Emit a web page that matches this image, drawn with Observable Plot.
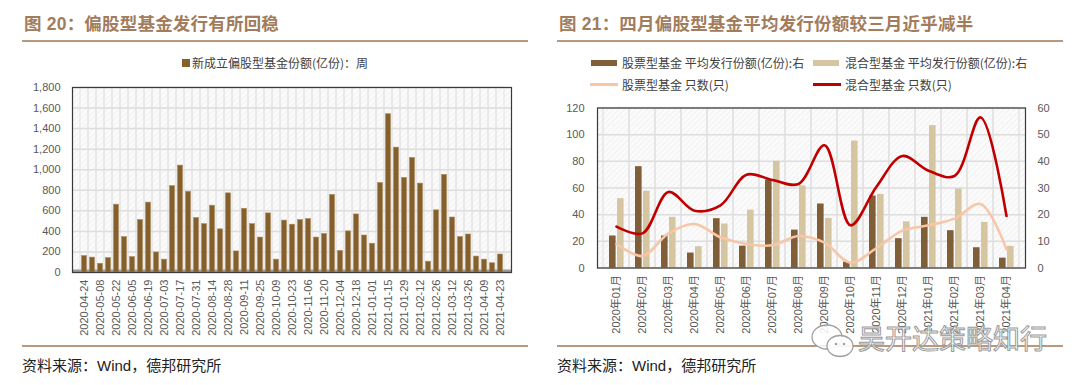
<!DOCTYPE html>
<html><head><meta charset="utf-8">
<script src="https://cdn.jsdelivr.net/npm/d3@7"></script>
<script src="https://cdn.jsdelivr.net/npm/@observablehq/plot@0.6"></script>
<style>
body{margin:0;background:#fff;}
#root{position:relative;width:1080px;height:385px;overflow:hidden;font-family:"Liberation Sans","Noto Sans CJK SC",sans-serif;}
#root svg.plot{position:absolute;top:0;}
.title{position:absolute;top:11px;font-size:17.5px;line-height:26px;font-weight:bold;color:#a27c5c;white-space:nowrap;letter-spacing:0.2px;font-family:"Liberation Sans","Noto Sans CJK SC",sans-serif;}
.rule{position:absolute;height:2px;background:#b9997e;}
.src{position:absolute;top:356px;font-size:15px;line-height:20px;color:#222;white-space:nowrap;font-family:"Liberation Sans","Noto Sans CJK SC",sans-serif;}
.leg{position:absolute;font-size:12px;line-height:16px;color:#404040;white-space:nowrap;font-family:"Noto Sans CJK SC",sans-serif;}
.sw{position:absolute;}
.wm{position:absolute;left:858px;top:320px;font-size:27px;line-height:36px;color:rgba(255,255,255,0.85);-webkit-text-stroke:1px #9a9a9a;font-family:"Noto Sans CJK SC",sans-serif;white-space:nowrap;}
#wmicon{position:absolute;left:808px;top:322px;}
</style></head>
<body>
<div id="root">
  <div class="title" style="left:24px">图 20：偏股型基金发行有所回稳</div>
  <div class="rule" style="left:22px;width:506px;top:40px"></div>
  <div class="sw" style="left:182px;top:59px;width:8px;height:8px;background:#86602a"></div>
  <div class="leg" style="left:192px;top:55px">新成立偏股型基金份额(亿份)：周</div>
  <div class="rule" style="left:22px;width:506px;top:345px"></div>
  <div class="src" style="left:22px">资料来源：Wind，德邦研究所</div>

  <div class="title" style="left:559px">图 21：四月偏股型基金平均发行份额较三月近乎减半</div>
  <div class="rule" style="left:557px;width:506px;top:40px"></div>
  <div class="sw" style="left:591px;top:60px;width:26px;height:6px;background:#7f5e38"></div>
  <div class="leg" style="left:622px;top:55px">股票型基金 平均发行份额(亿份):右</div>
  <div class="sw" style="left:813px;top:60px;width:26px;height:6px;background:#d5c5a1"></div>
  <div class="leg" style="left:845px;top:55px">混合型基金 平均发行份额(亿份):右</div>
  <div class="sw" style="left:590px;top:83px;width:28px;height:2.5px;background:#f8c6a6"></div>
  <div class="leg" style="left:622px;top:77px">股票型基金 只数(只)</div>
  <div class="sw" style="left:813px;top:83px;width:28px;height:2.5px;background:#c00000"></div>
  <div class="leg" style="left:845px;top:77px">混合型基金 只数(只)</div>
  <div class="rule" style="left:557px;width:506px;top:345px"></div>
  <div class="src" style="left:557px">资料来源：Wind，德邦研究所</div>
</div>
<script>
// ---- Chart 20 data ----
const weekDates = ["2020-04-24","2020-05-01","2020-05-08","2020-05-15","2020-05-22","2020-05-29","2020-06-05","2020-06-12","2020-06-19","2020-06-26",
  "2020-07-03","2020-07-10","2020-07-17","2020-07-24","2020-07-31","2020-08-07","2020-08-14","2020-08-21","2020-08-28","2020-09-04",
  "2020-09-11","2020-09-18","2020-09-25","2020-10-02","2020-10-09","2020-10-16","2020-10-23","2020-10-30","2020-11-06","2020-11-13",
  "2020-11-20","2020-11-27","2020-12-04","2020-12-11","2020-12-18","2020-12-25","2021-01-01","2021-01-08","2021-01-15","2021-01-22",
  "2021-01-29","2021-02-05","2021-02-12","2021-02-19","2021-02-26","2021-03-05","2021-03-12","2021-03-19","2021-03-26","2021-04-02",
  "2021-04-09","2021-04-16","2021-04-23"];
const weekLabels = ["2020-04-24","2020-05-08","2020-05-22","2020-06-05","2020-06-19","2020-07-03","2020-07-17","2020-07-31","2020-08-14",
  "2020-08-28","2020-09-11","2020-09-25","2020-10-09","2020-10-23","2020-11-06","2020-11-20","2020-12-04","2020-12-18","2021-01-01",
  "2021-01-15","2021-01-29","2021-02-12","2021-02-26","2021-03-12","2021-03-26","2021-04-09","2021-04-23"];
const newEquityShares = [160,145,85,140,660,345,150,510,680,195,
  125,840,1040,785,530,470,650,420,770,205,
  620,470,340,575,125,505,465,510,520,340,
  375,755,210,400,565,360,280,870,1540,1215,
  920,1115,865,105,605,950,535,345,370,155,
  125,90,175];
const leftTicks = [0,200,400,600,800,1000,1200,1400,1600,1800];

// ---- Chart 21 data ----
const months = ["2020年01月","2020年02月","2020年03月","2020年04月","2020年05月","2020年06月","2020年07月","2020年08月",
  "2020年09月","2020年10月","2020年11月","2020年12月","2021年01月","2021年02月","2021年03月","2021年04月"];
const stockAvgShare = [12,38,12,5.6,18.5,8.2,33,14.2,24,2.2,27,11,19,14,7.6,3.7];
const mixedAvgShare = [26,28.8,19,8,16.5,21.7,40,30.8,18.6,47.6,27.6,17.3,53.4,29.6,17.1,8.1];
const stockCount = [18,9,26,33,23,18,17,24,19,4,15,28,32,37,48,14];
const mixedCount = [31,26,57,43,47,70,66,63,92,32,61,84,73,69,113,39];
const countTicks = [0,20,40,60,80,100,120];   // left axis (只)
const shareTicks = [0,10,20,30,40,50,60];     // right axis (亿份)

const FONT = "Liberation Sans, Noto Sans CJK SC, sans-serif";
const root = document.getElementById("root");

function addHatch(svg, id) {
  const ns = "http://www.w3.org/2000/svg";
  const defs = document.createElementNS(ns, "defs");
  defs.innerHTML = `<pattern id="${id}" width="4" height="4" patternUnits="userSpaceOnUse" patternTransform="rotate(45)">
    <rect width="4" height="4" fill="#fbfbfb"/><line x1="0" y1="0" x2="0" y2="4" stroke="#eeeeee" stroke-width="1.4"/></pattern>`;
  svg.insertBefore(defs, svg.firstChild);
}

// ---- Left chart ----
const leftData = weekDates.map((d, i) => ({date: d, value: newEquityShares[i]}));
const labelSet = new Set(weekLabels);
const left = Plot.plot({
  width: 540, height: 345,
  marginTop: 87, marginBottom: 73, marginLeft: 72, marginRight: 29,
  style: {fontFamily: FONT, fontSize: "11px", color: "#595959", background: "transparent", overflow: "visible"},
  x: {type: "band", domain: weekDates, padding: 0},
  y: {domain: [0, 1800]},
  marks: [
    Plot.frame({fill: "url(#hatchL)", stroke: "none"}),
    Plot.barY(weekDates, {x: d => d, y1: 0, y2: 1800, fill: "none", stroke: "#e4e4e4", strokeWidth: 1}),
    Plot.ruleY(leftTicks, {stroke: "#dddddd", strokeWidth: 1.5}),
    Plot.ruleY([0], {stroke: "#9a9a9a", strokeWidth: 3, dy: -1.5}),
    Plot.barY(leftData, {x: "date", y: "value", fill: "#86602a", stroke: "#a88a5e", strokeWidth: 0.6, insetLeft: 1.5, insetRight: 1.5}),
    Plot.frame({stroke: "#3a3a3a", strokeWidth: 1.2}),
    Plot.axisY({ticks: leftTicks, tickFormat: d3.format(","), tickSize: 0, tickPadding: 12, label: null, fontSize: 11}),
    Plot.axisX({tickFormat: d => labelSet.has(d) ? d : "", tickRotate: -90, tickSize: 0, tickPadding: 7, label: null, fontSize: 11})
  ]
});
left.classList.add("plot");
left.style.left = "0px";
addHatch(left, "hatchL");
root.appendChild(left);

// ---- Right chart ----
const rightData = months.map((m, i) => ({month: m, stockShare: stockAvgShare[i], mixedShare: mixedAvgShare[i],
  stockN: stockCount[i], mixedN: mixedCount[i]}));
const right = Plot.plot({
  width: 540, height: 345,
  marginTop: 107.5, marginBottom: 77.5, marginLeft: 57, marginRight: 55,
  style: {fontFamily: FONT, fontSize: "11px", color: "#595959", background: "transparent", overflow: "visible"},
  x: {type: "band", domain: months, padding: 0},
  y: {domain: [0, 120]},
  marks: [
    Plot.frame({fill: "url(#hatchR)", stroke: "none"}),
    Plot.barY(months, {x: d => d, y1: 0, y2: 120, fill: "none", stroke: "#e2e2e2", strokeWidth: 1.2}),
    Plot.ruleY(countTicks, {stroke: "#dddddd", strokeWidth: 1.5}),
    // bars are read on the right axis (亿份): a right-axis value v sits at left-axis 2v
    Plot.barY(rightData, {x: "month", y: d => d.stockShare * 2, fill: "#7f5e38", insetLeft: 6, insetRight: 13.4}),
    Plot.barY(rightData, {x: "month", y: d => d.mixedShare * 2, fill: "#d5c5a1", insetLeft: 14, insetRight: 5.4}),
    Plot.line(rightData, {x: "month", y: "stockN", stroke: "#f8c6a6", strokeWidth: 2.6, curve: "catmull-rom"}),
    Plot.line(rightData, {x: "month", y: "mixedN", stroke: "#c00000", strokeWidth: 2.6, curve: "catmull-rom"}),
    Plot.frame({stroke: "#3a3a3a", strokeWidth: 1.2}),
    Plot.axisY({anchor: "left", ticks: countTicks, tickSize: 0, tickPadding: 13, label: null, fontSize: 11}),
    Plot.axisY({anchor: "right", ticks: shareTicks.map(v => v * 2), tickFormat: d => String(d / 2), tickSize: 0, tickPadding: 12, label: null, fontSize: 11}),
    Plot.axisX({tickRotate: -90, tickSize: 0, tickPadding: 7, label: null, fontSize: 11})
  ]
});
right.classList.add("plot");
right.style.left = "540px";
addHatch(right, "hatchR");
root.appendChild(right);

// watermark (WeChat-style icon + account name)
const ns = "http://www.w3.org/2000/svg";
const icon = document.createElementNS(ns, "svg");
icon.setAttribute("id", "wmicon");
icon.setAttribute("width", "50");
icon.setAttribute("height", "40");
icon.innerHTML = `<ellipse cx="19" cy="15" rx="15" ry="12" fill="rgba(255,255,255,0.85)" stroke="#a0a0a0" stroke-width="1.3"/>
  <ellipse cx="32" cy="24" rx="13" ry="10.5" fill="rgba(255,255,255,0.9)" stroke="#a0a0a0" stroke-width="1.3"/>
  <circle cx="28" cy="22" r="1.3" fill="#a0a0a0"/><circle cx="36" cy="22" r="1.3" fill="#a0a0a0"/>`;
root.appendChild(icon);
const wm = document.createElement("div");
wm.className = "wm";
wm.textContent = "吴开达策略知行";
root.appendChild(wm);
</script>
</body></html>
